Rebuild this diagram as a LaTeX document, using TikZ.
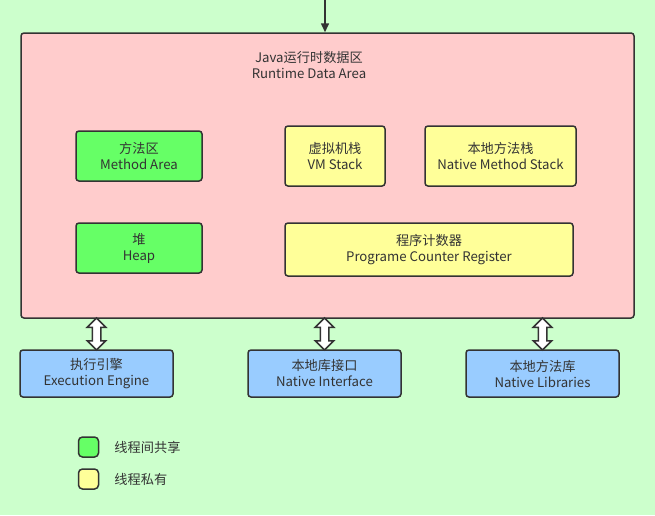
\documentclass[tikz,border=0pt]{standalone}
\usepackage{fontspec}
\setmainfont{Noto Sans CJK SC}
\usetikzlibrary{shapes.arrows,arrows.meta}
\definecolor{bgcol}{HTML}{CCFFCC}
\definecolor{areacol}{HTML}{FFCCCC}
\definecolor{sharedcol}{HTML}{66FF66}
\definecolor{privcol}{HTML}{FFFF99}
\definecolor{nativecol}{HTML}{99CCFF}
\definecolor{linecol}{HTML}{333333}
\begin{document}
\begin{tikzpicture}[x=1pt,y=-1pt,
 box/.style={draw=linecol,line width=1.5pt,rounded corners=3pt,align=center,text=linecol,
  font=\fontsize{13.2}{16}\selectfont,inner sep=0pt},
 area/.style={box,fill=areacol},
 shared/.style={box,fill=sharedcol},
 private/.style={box,fill=privcol},
 outer/.style={box,fill=nativecol},
 link/.style={double arrow,draw=linecol,line width=1.5pt,fill=white,rotate=90,
  minimum height=32pt,minimum width=18pt,inner sep=3.5pt,double arrow head extend=5pt},
 note/.style={text=linecol,font=\fontsize{13.2}{16}\selectfont,anchor=west,inner sep=0pt}]
\fill[bgcol] (0,0) rectangle (655,515);
\useasboundingbox (0,0) rectangle (655,515);
% runtime data area
\node[area,minimum width=613pt,minimum height=285pt] (rda) at (327.5,175.5) {};
\node[align=center,text=linecol,font=\fontsize{13.2}{16}\selectfont] (title) at (309,65)
 {Java运行时数据区\\Runtime Data Area};
\coordinate (entry) at (325,0);
\draw[linecol,line width=1.5pt,-{Triangle[length=9pt,width=8pt]}] (entry) -- (entry |- rda.north);
\node[shared,minimum width=126pt,minimum height=50pt] (method) at (139,156) {方法区\\Method Area};
\node[private,minimum width=100pt,minimum height=60pt] (vmstack) at (335,156) {虚拟机栈\\VM Stack};
\node[private,minimum width=151pt,minimum height=60pt] (nstack) at (500.5,156) {本地方法栈\\Native Method Stack};
\node[shared,minimum width=126pt,minimum height=50pt] (heap) at (139,248) {堆\\Heap};
\node[private,minimum width=288pt,minimum height=53pt] (pc) at (429,249.5) {程序计数器\\Programe Counter Register};
% outside the area
\node[outer,minimum width=153pt,minimum height=47pt] (engine) at (96.5,373.5) {执行引擎\\Execution Engine};
\node[outer,minimum width=153pt,minimum height=47pt] (nif) at (324.5,373.5) {本地库接口\\Native Interface};
\node[outer,minimum width=153pt,minimum height=47pt] (nlib) at (542.5,373.5) {本地方法库\\Native Libraries};
\foreach \b in {engine,nif,nlib}
 \path (\b.north) -- (\b.north |- rda.south) node[midway,link] {};
% legend
\node[shared,rounded corners=4pt,minimum size=20pt] (keyshared) at (88.5,447) {};
\node[private,rounded corners=4pt,minimum size=20pt] (keyprivate) at (88.5,479) {};
\node[note] at ([xshift=15pt]keyshared.east) {线程间共享};
\node[note] at ([xshift=15pt]keyprivate.east) {线程私有};
\end{tikzpicture}
\end{document}
